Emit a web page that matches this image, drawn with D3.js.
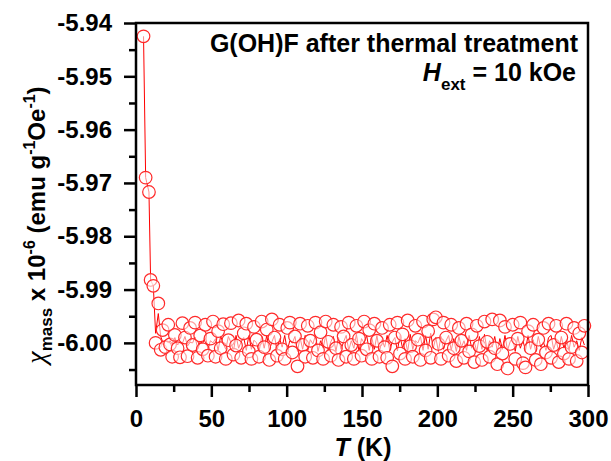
<!DOCTYPE html>
<html lang="en">
<head>
<meta charset="utf-8">
<title>chi mass vs T</title>
<script src="https://d3js.org/d3.v7.min.js"></script>
<style>
  body { margin: 0; background: #fff; }
  svg text { font-family: "Liberation Sans", Arial, sans-serif; font-weight: bold; fill: #000; }
</style>
</head>
<body>
<svg id="chart" width="611" height="461"></svg>
<script>
// temperature (K)
var tempK = [
  5, 6.4, 8.6, 9.7, 11.5, 13, 14.8, 16.4, 17.7, 19.5,
  21.4, 22.6, 24, 25.8, 27.6, 29.2, 30.8, 32.5, 34.2, 35.9,
  37.6, 39.2, 40.9, 42.6, 44.3, 46, 47.7, 49.4, 51.1, 52.8,
  54.5, 56.2, 57.9, 59.6, 61.3, 63, 64.7, 66.4, 68.1, 69.8,
  71.5, 73.2, 74.9, 76.6, 78.3, 80, 81.7, 83.4, 85.1, 86.8,
  88.5, 90.2, 91.9, 93.6, 95.3, 97, 98.7, 100.4, 102.1, 103.8,
  105.5, 107.2, 108.9, 110.6, 112.3, 114, 115.7, 117.4, 119.1, 120.8,
  122.5, 124.2, 125.9, 127.6, 129.3, 131, 132.7, 134.4, 136.1, 137.8,
  139.5, 141.2, 142.9, 144.6, 146.3, 148, 149.7, 151.4, 153.1, 154.8,
  156.5, 158.2, 159.9, 161.6, 163.3, 165, 166.7, 168.4, 170.1, 171.8,
  173.5, 175.2, 176.9, 178.6, 180.3, 182, 183.7, 185.4, 187.1, 188.8,
  190.5, 192.2, 193.9, 195.6, 197.3, 199, 200.7, 202.4, 204.1, 205.8,
  207.5, 209.2, 210.9, 212.6, 214.3, 216, 217.7, 219.4, 221.1, 222.8,
  224.5, 226.2, 227.9, 229.6, 231.3, 233, 234.7, 236.4, 238.1, 239.8,
  241.5, 243.2, 244.9, 246.6, 248.3, 250, 251.7, 253.4, 255.1, 256.8,
  258.5, 260.2, 261.9, 263.6, 265.3, 267, 268.7, 270.4, 272.1, 273.8,
  275.5, 277.2, 278.9, 280.6, 282.3, 284, 285.7, 287.4, 289.1, 290.8,
  292.5, 294.2, 295.9, 297.6
];

// chi_mass (x 10^-6 emu g^-1 Oe^-1), open circles
var chiSymbol = [
  -5.9425, -5.9690, -5.9717, -5.9882, -5.9893, -6.0000, -5.9926, -6.0013, -5.9976, -6.0008,
  -5.9966, -6.0003, -6.0026, -5.9985, -6.0010, -6.0027, -5.9963, -5.9990, -6.0025, -5.9972,
  -6.0004, -5.9962, -6.0028, -5.9986, -6.0012, -5.9966, -6.0024, -5.9992, -5.9960, -6.0026,
  -5.9978, -6.0010, -5.9965, -6.0030, -5.9995, -5.9963, -6.0022, -6.0005, -5.9958, -6.0028,
  -5.9982, -5.9964, -6.0016, -6.0030, -5.9970, -5.9994, -6.0026, -5.9960, -6.0008, -5.9975,
  -6.0032, -5.9956, -5.9990, -6.0024, -5.9966, -6.0012, -6.0030, -5.9972, -5.9962, -6.0018,
  -5.9988, -6.0044, -5.9964, -6.0004, -6.0026, -5.9968, -5.9996, -6.0028, -5.9962, -6.0014,
  -5.9980, -6.0030, -5.9960, -5.9998, -6.0024, -5.9966, -6.0010, -6.0032, -5.9970, -5.9988,
  -6.0026, -5.9962, -6.0004, -6.0030, -5.9968, -5.9992, -6.0024, -5.9960, -6.0012, -5.9976,
  -6.0030, -5.9964, -5.9996, -6.0026, -5.9972, -6.0008, -6.0028, -5.9966, -6.0044, -5.9990,
  -5.9962, -6.0020, -5.9984, -6.0030, -5.9958, -6.0006, -6.0026, -5.9968, -5.9994, -6.0032,
  -5.9960, -6.0014, -5.9978, -6.0028, -5.9956, -5.9952, -6.0002, -6.0030, -5.9962, -5.9990,
  -6.0024, -5.9966, -6.0010, -6.0034, -5.9972, -5.9996, -6.0028, -5.9964, -6.0016, -5.9984,
  -6.0036, -5.9968, -6.0006, -6.0032, -5.9960, -5.9998, -6.0026, -5.9956, -6.0010, -6.0040,
  -5.9958, -6.0020, -5.9970, -6.0048, -6.0002, -5.9966, -6.0030, -5.9992, -5.9962, -6.0038,
  -6.0046, -5.9978, -6.0010, -5.9966, -6.0032, -5.9994, -6.0040, -5.9972, -6.0018, -5.9964,
  -6.0028, -6.0004, -5.9968, -6.0036, -5.9990, -6.0020, -5.9964, -6.0030, -6.0008, -5.9972,
  -6.0034, -5.9982, -6.0018, -5.9968
];

// chi_mass, connecting line
var chiLine = [
  -5.9425, -5.9690, -5.9717, -5.9882, -5.9893, -5.9982, -5.9945, -5.9988, -5.9998, -5.9996,
  -6.0000, -5.9996, -6.0002, -5.9990, -6.0004, -5.9998, -6.0001, -5.9988, -6.0006, -5.9999,
  -6.0000, -5.9989, -6.0010, -5.9998, -6.0001, -5.9986, -6.0012, -5.9996, -6.0000, -5.9992,
  -6.0014, -5.9987, -6.0002, -6.0012, -5.9988, -5.9999, -6.0015, -5.9986, -6.0010, -5.9998,
  -5.9990, -6.0014, -5.9986, -6.0012, -5.9995, -6.0000, -6.0016, -5.9988, -6.0010, -5.9986,
  -6.0014, -5.9998, -5.9986, -6.0015, -5.9992, -6.0008, -5.9986, -6.0014, -5.9996, -6.0000,
  -5.9988, -6.0016, -5.9990, -6.0012, -5.9986, -6.0014, -5.9994, -6.0002, -5.9986, -6.0016,
  -5.9996, -6.0010, -5.9986, -6.0014, -5.9998, -5.9988, -6.0016, -5.9990, -6.0012, -5.9998,
  -5.9986, -6.0014, -5.9996, -6.0010, -5.9984, -6.0016, -5.9992, -6.0000, -5.9986, -6.0014,
  -5.9990, -6.0012, -5.9986, -6.0016, -5.9994, -6.0008, -5.9986, -6.0014, -5.9998, -5.9990,
  -6.0015, -5.9986, -6.0010, -5.9992, -6.0016, -5.9984, -6.0012, -5.9996, -6.0000, -5.9988,
  -6.0014, -5.9986, -6.0012, -5.9982, -6.0010, -5.9990, -6.0016, -5.9988, -6.0012, -5.9996,
  -5.9986, -6.0014, -5.9992, -6.0016, -5.9988, -6.0008, -5.9996, -6.0014, -5.9986, -6.0010,
  -5.9998, -6.0016, -5.9988, -6.0012, -5.9984, -6.0014, -5.9996, -6.0008, -5.9988, -6.0016,
  -5.9992, -6.0012, -5.9986, -6.0014, -5.9998, -5.9990, -6.0016, -5.9988, -6.0010, -5.9996,
  -6.0014, -5.9986, -6.0012, -5.9994, -6.0016, -5.9988, -6.0008, -5.9998, -6.0014, -5.9990,
  -5.9986, -6.0012, -5.9996, -6.0016, -5.9988, -6.0010, -5.9994, -6.0014, -5.9986, -6.0008,
  -5.9996, -6.0014, -5.9990, -6.0004
];

var xTicks = [0, 50, 100, 150, 200, 250, 300];
var xMinor = [25, 75, 125, 175, 225, 275];
var yTicks = [-6.00, -5.99, -5.98, -5.97, -5.96, -5.95, -5.94];
var yMinor = [-6.005, -5.995, -5.985, -5.975, -5.965, -5.955, -5.945];

var svg = d3.select("#chart"),
    margin = {top: 23, right: 23, bottom: 76, left: 136},
    width = 611 - margin.left - margin.right,
    height = 461 - margin.top - margin.bottom;

var x = d3.scaleLinear().domain([0, 300]).range([0, width]);
var y = d3.scaleLinear().domain([-6.0079, -5.94]).range([height, 0]);

var g = svg.append("g")
    .attr("transform", "translate(" + margin.left + "," + margin.top + ")");

var data = tempK.map(function(t, i) {
  return {t: t, s: chiSymbol[i], l: chiLine[i]};
});

// line under the symbols
g.append("path")
  .datum(data)
  .attr("fill", "none")
  .attr("stroke", "#ff0000")
  .attr("stroke-width", 1)
  .attr("d", d3.line().x(function(d) { return x(d.t); }).y(function(d) { return y(d.l); }));

g.selectAll(".pt")
  .data(data)
  .enter().append("circle")
  .attr("class", "pt")
  .attr("cx", function(d) { return x(d.t); })
  .attr("cy", function(d) { return y(d.s); })
  .attr("r", 6.3)
  .attr("fill", "#fff")
  .attr("fill-opacity", 0.55)
  .attr("stroke", "#ff2a2a")
  .attr("stroke-width", 1.2);

// axes (plain hyphen in labels, as in the original)
g.append("g")
  .attr("transform", "translate(0," + height + ")")
  .call(d3.axisBottom(x).tickValues(xTicks).tickSize(12).tickPadding(13).tickFormat(function(d) { return String(d); }));
g.append("g")
  .attr("transform", "translate(0," + height + ")")
  .call(d3.axisBottom(x).tickValues(xMinor).tickSize(7).tickFormat(""));

g.append("g")
  .call(d3.axisLeft(y).tickValues(yTicks).tickSize(12).tickPadding(12).tickFormat(function(d) { return d.toFixed(2); }));
g.append("g")
  .call(d3.axisLeft(y).tickValues(yMinor).tickSize(7).tickFormat(""));

g.selectAll(".domain").remove();
g.selectAll(".tick line").attr("stroke", "#000").attr("stroke-width", 2.5);
g.selectAll(".tick text").style("font-size", "24px").style("font-weight", "bold")
  .style("font-family", "'Liberation Sans', Arial, sans-serif");

// frame
g.append("rect")
  .attr("x", 0).attr("y", 0)
  .attr("width", width).attr("height", height)
  .attr("fill", "none")
  .attr("stroke", "#000")
  .attr("stroke-width", 2.5);

// x label
var xl = g.append("text")
  .attr("x", width / 2 + 1)
  .attr("y", height + 71)
  .attr("text-anchor", "middle")
  .style("font-size", "25px");
xl.append("tspan").style("font-style", "italic").text("T");
xl.append("tspan").text(" (K)");

// y label
var yl = svg.append("text")
  .attr("transform", "translate(45,225) rotate(-90)")
  .attr("text-anchor", "middle")
  .style("font-size", "24px");
yl.append("tspan").style("font-style", "italic").style("font-weight", "normal")
  .style("font-family", "'Liberation Serif', 'DejaVu Serif', serif").style("font-size", "28px").text("\u03c7");
yl.append("tspan").attr("dy", 7).style("font-size", "17px").text("mass");
yl.append("tspan").attr("dy", -7).text(" x 10");
yl.append("tspan").attr("dy", -10).style("font-size", "16px").text("-6");
yl.append("tspan").attr("dy", 10).text(" (emu g");
yl.append("tspan").attr("dy", -10).style("font-size", "16px").text("-1");
yl.append("tspan").attr("dy", 10).text("Oe");
yl.append("tspan").attr("dy", -10).style("font-size", "16px").text("-1");
yl.append("tspan").attr("dy", 10).text(")");

// annotation
g.append("text")
  .attr("x", width - 10)
  .attr("y", 29)
  .attr("text-anchor", "end")
  .style("font-size", "25px")
  .text("G(OH)F after thermal treatment");
var h = g.append("text")
  .attr("x", width - 12)
  .attr("y", 58)
  .attr("text-anchor", "end")
  .style("font-size", "25px");
h.append("tspan").style("font-style", "italic").text("H");
h.append("tspan").attr("dy", 9).style("font-size", "17px").text("ext");
h.append("tspan").attr("dy", -9).text(" = 10 kOe");
</script>
</body>
</html>
